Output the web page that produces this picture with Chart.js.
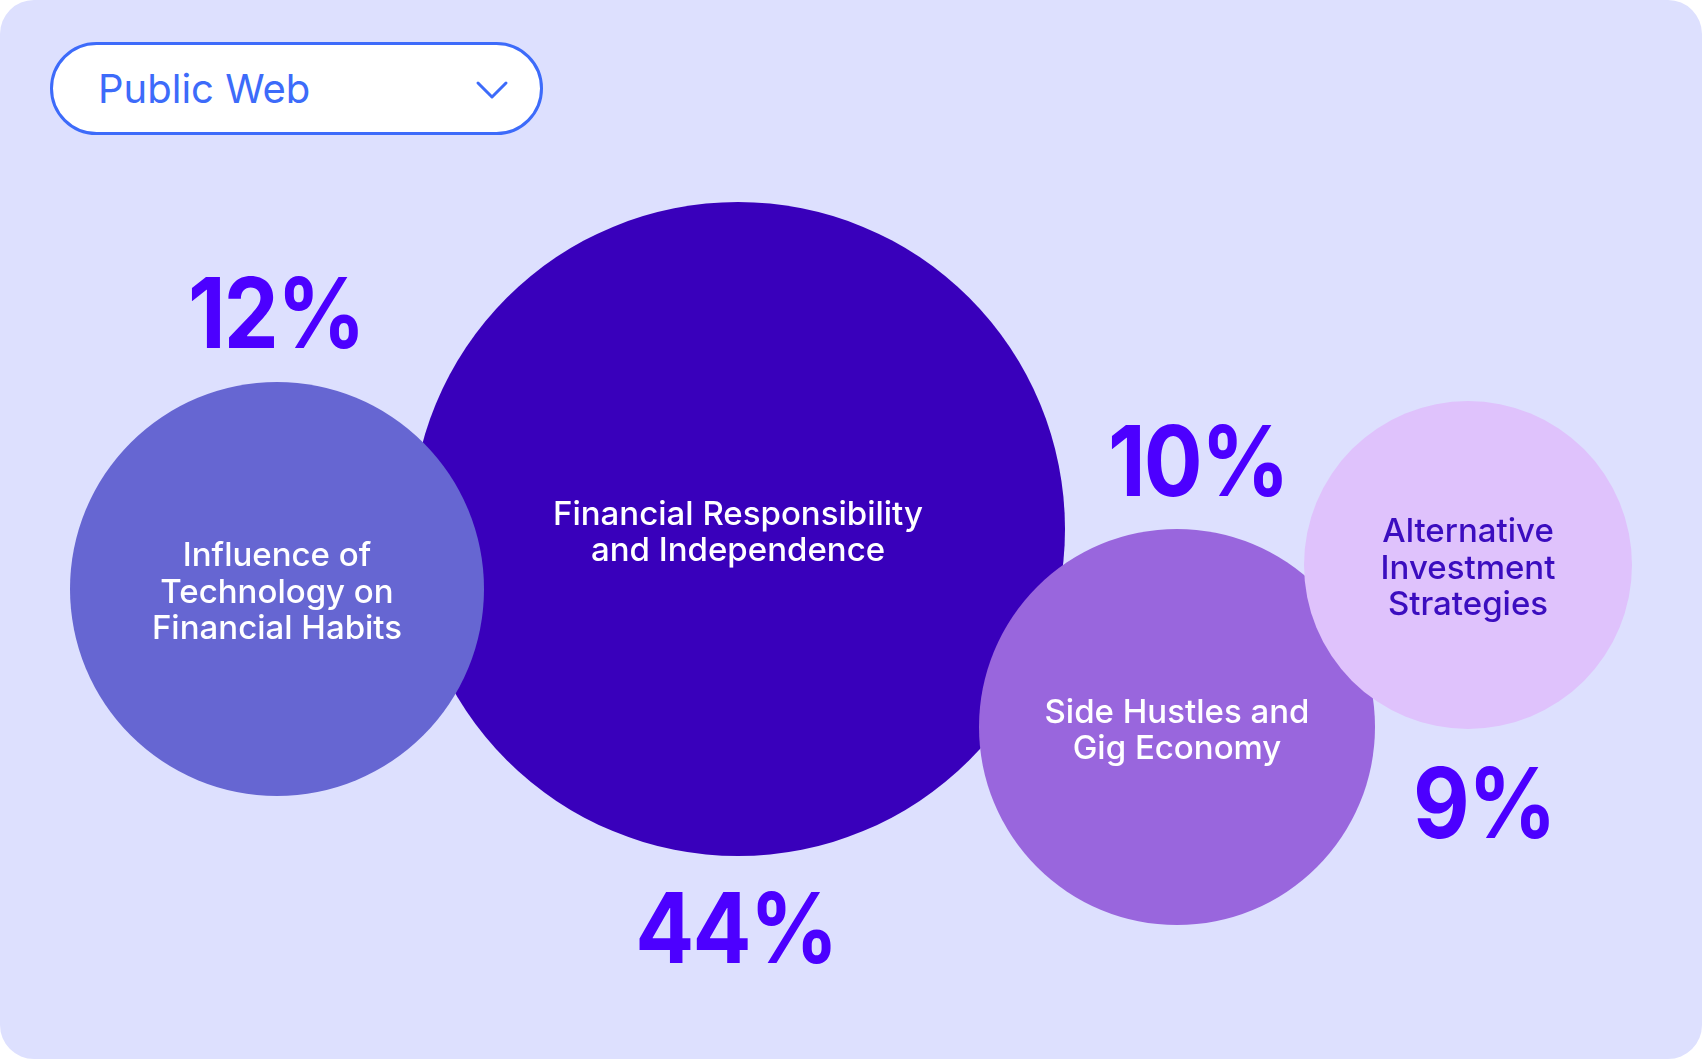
<!DOCTYPE html>
<html>
<head>
<meta charset="utf-8">
<script src="https://cdn.jsdelivr.net/npm/chart.js@4/dist/chart.umd.min.js"></script>
<style>
  html, body { margin: 0; padding: 0; background: #ffffff; }
  #card {
    position: relative; width: 1702px; height: 1059px;
    background: #DDE0FE; border-radius: 34px; overflow: hidden;
  }
  #chartWrap { position: absolute; left: 0; top: 0; width: 1702px; height: 1059px; }
  #dropdown {
    position: absolute; left: 50px; top: 42px; width: 493px; height: 93px;
    box-sizing: border-box; border: 3px solid #3D6BFA; border-radius: 47px;
    background: #ffffff; font-family: Inter, sans-serif; font-size: 40px;
    color: #3D6BFA; display: flex; align-items: center; padding-left: 45px;
  }
  #dropdown svg { position: absolute; left: 422px; top: 35px; }
</style>
</head>
<body>
<div id="card">
  <div id="chartWrap"><canvas id="c"></canvas></div>
  <div id="dropdown"><span>Public Web</span>
    <svg width="36" height="20" viewBox="0 0 36 20"><polyline points="3,3 17,17 31,3" fill="none" stroke="#3D6BFA" stroke-width="3" stroke-linecap="round" stroke-linejoin="round"/></svg>
  </div>
</div>
<script>
// ---- data ----
const categories = [
  ["Financial Responsibility", "and Independence"],
  ["Influence of", "Technology on", "Financial Habits"],
  ["Side Hustles and", "Gig Economy"],
  ["Alternative", "Investment", "Strategies"]
];
const shares = [44, 12, 10, 9];
const percentLabels = shares.map(v => v + "%");

// ---- layout (bubble placement in page pixels) ----
const bubbleX = [738, 277, 1177, 1468];
const bubbleY = [529, 589, 727, 565];
const bubbleR = [327, 207, 198, 164];
const percentSide = ["below", "above", "above", "below"];
const percentDx = [-3, -2, 20, 15];
const percentGap = [72, 69, 68, 74];

// ---- styles ----
const bubbleColors = ["#3900BB", "#6666D2", "#9966DD", "#DFC2FC"];
const textColors = ["#FFFFFF", "#FFFFFF", "#FFFFFF", "#3B0DBF"];
const percentColor = "#4C00FF";

const labelPlugin = {
  id: "bubbleLabels",
  afterDatasetsDraw(chart) {
    const ctx = chart.ctx;
    const meta = chart.getDatasetMeta(0);
    meta.data.forEach((el, i) => {
      const r = el.options.radius;
      ctx.save();
      ctx.textAlign = "center";
      ctx.textBaseline = "alphabetic";
      const fs = 33, lh = 36.5, cap = fs * 0.727;
      ctx.font = "500 " + fs + "px Inter, sans-serif";
      ctx.fillStyle = textColors[i];
      const lines = categories[i];
      lines.forEach((ln, k) => {
        const y = el.y + 2 + (k - (lines.length - 1) / 2) * lh + cap / 2;
        ctx.fillText(ln, el.x, y);
      });
      ctx.restore();

      ctx.save();
      ctx.textAlign = "center";
      ctx.textBaseline = "alphabetic";
      const pfs = 97, pcap = pfs * 0.727, ls = -2, sx = 0.9;
      ctx.font = "700 " + pfs + "px Inter, sans-serif";
      if ("letterSpacing" in ctx) ctx.letterSpacing = ls + "px";
      ctx.fillStyle = percentColor;
      const cy = percentSide[i] === "above" ? el.y - r - percentGap[i] : el.y + r + percentGap[i];
      ctx.translate(el.x + percentDx[i], cy + pcap / 2);
      ctx.scale(sx, 1);
      ctx.fillText(percentLabels[i], -ls / 2, 0);
      ctx.restore();
    });
  }
};

new Chart(document.getElementById("c"), {
  type: "bubble",
  data: {
    datasets: [{
      data: shares.map((v, i) => ({ x: bubbleX[i], y: bubbleY[i], r: bubbleR[i], v: v })),
      backgroundColor: bubbleColors,
      borderWidth: 0,
      hoverBorderWidth: 0,
      hoverRadius: 0
    }]
  },
  options: {
    responsive: true,
    maintainAspectRatio: false,
    animation: false,
    events: [],
    layout: { padding: 0, autoPadding: false },
    plugins: { legend: { display: false }, tooltip: { enabled: false } },
    scales: {
      x: { type: "linear", min: 0, max: 1702, display: false },
      y: { type: "linear", min: 0, max: 1059, reverse: true, display: false }
    },
    clip: false
  },
  plugins: [labelPlugin]
});
</script>
</body>
</html>
